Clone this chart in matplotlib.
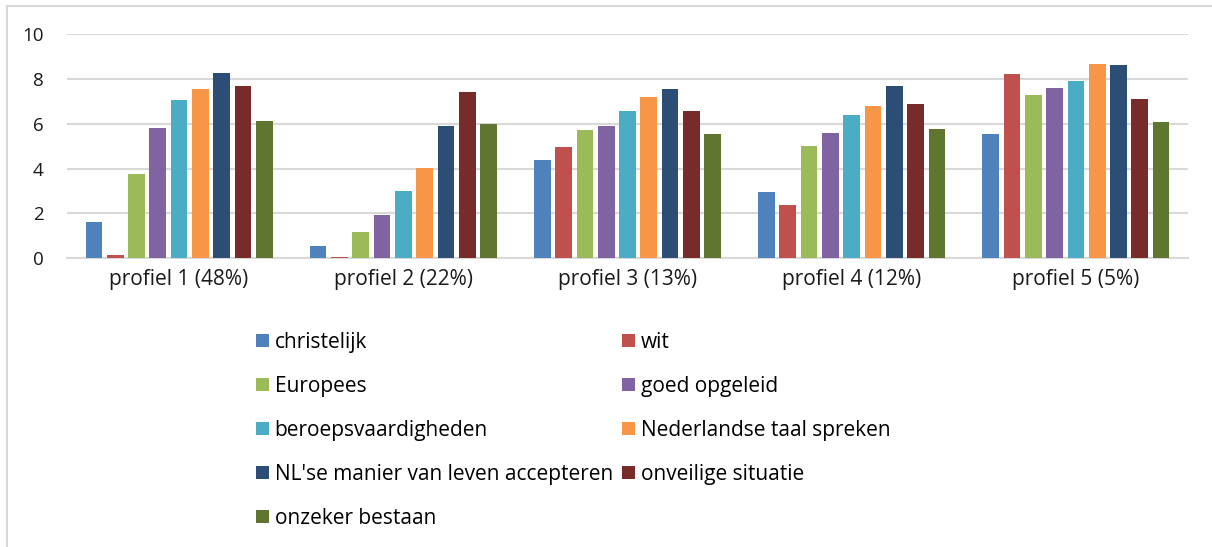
import numpy as np
import matplotlib
matplotlib.use("Agg")
import matplotlib.pyplot as plt
from matplotlib.patches import Patch
from matplotlib.lines import Line2D

plt.rcParams['font.family'] = ['Open Sans', 'DejaVu Sans']

# categories and series
profielen = ['profiel 1 (48%)', 'profiel 2 (22%)', 'profiel 3 (13%)',
             'profiel 4 (12%)', 'profiel 5 (5%)']
series = ['christelijk', 'wit', 'Europees', 'goed opgeleid',
          'beroepsvaardigheden', 'Nederlandse taal spreken',
          "NL'se manier van leven accepteren", 'onveilige situatie',
          'onzeker bestaan']

# values per series, one per profiel
christelijk = [1.6, 0.53, 4.37, 2.97, 5.53]
wit = [0.15, 0.06, 4.98, 2.38, 8.2]
europees = [3.76, 1.16, 5.72, 4.99, 7.27]
goed_opgeleid = [5.82, 1.93, 5.88, 5.6, 7.58]
beroeps = [7.07, 3.02, 6.55, 6.4, 7.9]
nl_taal = [7.53, 4.03, 7.18, 6.8, 8.66]
nl_manier = [8.26, 5.9, 7.55, 7.7, 8.63]
onveilig = [7.7, 7.43, 6.55, 6.89, 7.09]
onzeker = [6.1, 6.0, 5.54, 5.76, 6.06]

values = [christelijk, wit, europees, goed_opgeleid, beroeps,
          nl_taal, nl_manier, onveilig, onzeker]
colors = ['#4F81BD', '#C0504D', '#9BBB59', '#8064A2', '#4BACC6',
          '#F79646', '#2C4D75', '#772C2A', '#5F7530']

W, H = 1212, 547
fig = plt.figure(figsize=(W / 100, H / 100), dpi=100)
ax = fig.add_axes([67 / W, 1 - 258.3 / H, (1188 - 67) / W, (258.3 - 34) / H])

x = np.arange(len(profielen))
pitch = 0.095
bar_w = 0.0745
for i, (vals, c) in enumerate(zip(values, colors)):
    offs = (i - (len(series) - 1) / 2) * pitch
    ax.bar(x + offs, vals, width=bar_w, color=c, zorder=3, label=series[i])

ax.set_xlim(-0.5, len(profielen) - 0.5)
ax.set_ylim(0, 10)
ax.set_yticks([0, 2, 4, 6, 8, 10])
ax.set_xticks(x)
ax.set_xticklabels(profielen, fontsize=15, color='#1a1a1a')
ax.tick_params(axis='y', length=0, pad=17, labelsize=13.5, labelcolor='#1a1a1a')
ax.tick_params(axis='x', length=0, pad=8)
ax.grid(axis='y', color='#d9d9d9', linewidth=1.5, zorder=0)
ax.set_axisbelow(True)
for s in ['top', 'right', 'left']:
    ax.spines[s].set_visible(False)
ax.spines['bottom'].set_color('#d9d9d9')
ax.spines['bottom'].set_linewidth(1.5)

# legend: row-wise order in two columns
order = [0, 2, 4, 6, 8, 1, 3, 5, 7]
handles = [Patch(facecolor=colors[i]) for i in order]
labels = [series[i] for i in order]
fig.legend(handles, labels, loc='upper left',
           bbox_to_anchor=(256 / W, 1 - 332 / H), ncol=2, frameon=False,
           fontsize=15, handlelength=0.6, handleheight=0.6,
           handletextpad=0.3, columnspacing=0.45, labelspacing=1.1,
           borderpad=0, borderaxespad=0)

# chart border (left and top only visible)
fig.add_artist(Line2D([7 / W, 7 / W], [0, 1 - 6 / H], color='#d9d9d9', lw=1.5))
fig.add_artist(Line2D([7 / W, 1], [1 - 6 / H, 1 - 6 / H], color='#d9d9d9', lw=1.5))

fig.savefig('out.png', dpi=100, facecolor='white')
